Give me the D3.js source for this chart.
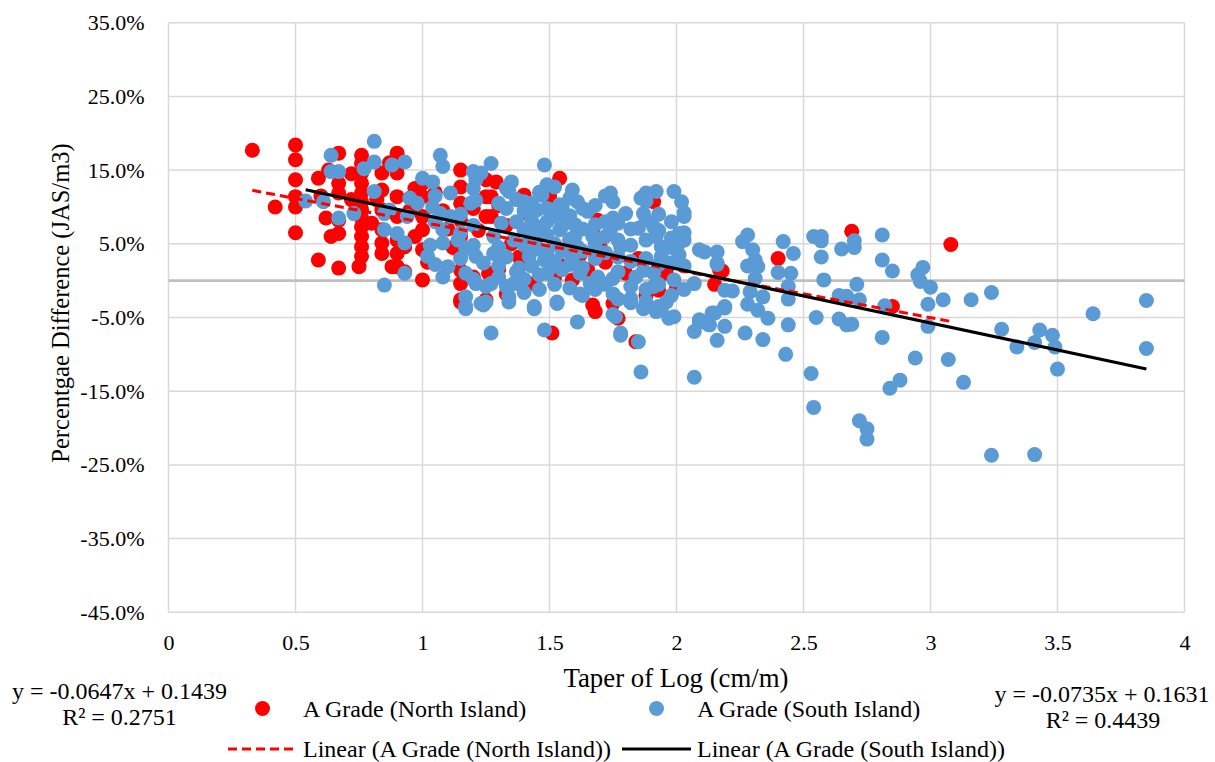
<!DOCTYPE html>
<html>
<head>
<meta charset="utf-8">
<script src="https://cdn.jsdelivr.net/npm/d3@7"></script>
<style>
  body { margin: 0; background: #fff; }
  svg, svg text { font-family: "Liberation Serif", "Times New Roman", serif; }
</style>
</head>
<body>
<svg width="1215" height="762"></svg>
<script>
// taper (cm/m), percentage difference (%)
const northIsland = [
  [0.33,17.7],[0.42,10.0],[0.50,18.4],[0.50,16.4],[0.50,13.7],[0.50,11.4],[0.50,10.0],[0.50,6.5],
  [0.59,13.9],[0.59,2.8],[0.60,11.5],[0.62,8.5],[0.63,15.0],[0.64,6.0],
  [0.67,17.3],[0.67,13.2],[0.67,11.9],[0.67,8.2],[0.67,6.4],[0.67,1.7],
  [0.72,14.5],[0.72,11.0],
  [0.76,17.0],[0.76,15.9],[0.76,14.6],[0.76,13.2],[0.76,11.9],[0.76,10.7],[0.76,9.6],[0.76,8.5],
  [0.76,7.3],[0.76,6.0],[0.76,4.6],[0.76,3.3],[0.75,1.9],
  [0.80,7.8],[0.82,11.0],
  [0.84,14.6],[0.84,12.3],[0.84,9.6],[0.84,6.9],[0.84,5.1],[0.84,3.7],
  [0.87,16.0],[0.88,1.9],
  [0.90,17.3],[0.90,14.6],[0.90,11.4],[0.90,8.7],[0.90,5.5],[0.90,3.7],[0.90,1.9],
  [0.93,4.6],[0.93,1.2],[0.95,9.5],[0.97,12.5],[0.97,6.0],
  [1.00,13.2],[1.00,11.4],[1.00,8.7],[1.00,6.9],[1.00,4.2],[1.00,0.1],[1.02,2.5],
  [1.05,12.0],[1.08,9.5],[1.10,7.0],[1.12,4.5],
  [1.15,15.0],[1.15,12.7],[1.15,10.5],[1.15,8.2],[1.15,6.0],[1.15,3.7],[1.15,1.4],[1.15,-0.4],[1.15,-2.6],[1.15,-2.9],
  [1.20,9.8],[1.20,0.5],[1.22,6.8],
  [1.25,13.7],[1.25,11.4],[1.25,8.7],[1.25,-2.6],[1.26,1.0],
  [1.27,11.4],[1.27,8.7],[1.29,13.4],
  [1.30,10.2],[1.30,1.5],[1.33,7.5],[1.33,-1.8],[1.35,5.0],[1.38,3.2],[1.40,11.6],[1.40,2.4],
  [1.42,9.0],[1.44,-0.4],[1.45,6.0],[1.48,4.0],
  [1.50,11.4],[1.51,-7.1],[1.52,0.5],[1.54,13.9],[1.55,8.5],[1.55,2.0],[1.58,5.5],[1.59,0.1],
  [1.62,3.5],[1.65,1.5],[1.67,6.9],[1.67,-3.3],[1.68,-4.2],[1.69,8.2],
  [1.70,4.5],[1.72,2.5],[1.75,-3.1],[1.77,-5.1],[1.80,1.0],[1.84,-8.3],[1.85,3.0],[1.88,-2.0],
  [1.91,10.7],[1.93,-1.3],[1.95,1.5],[1.96,1.0],[2.00,-1.0],
  [2.15,-0.5],[2.17,1.4],[2.18,1.3],[2.40,3.0],[2.69,6.7],[2.85,-3.5],[3.08,4.9]
];

const southIsland = [
  // left cluster
  [0.81,18.9],[0.64,17.0],[0.64,14.8],[0.67,14.8],[0.77,15.2],[0.81,16.1],[0.81,12.1],[0.88,15.7],
  [0.93,16.1],[1.07,17.0],[1.08,15.5],[1.20,14.8],[1.21,13.7],[1.00,13.9],[1.04,13.4],[1.11,11.9],
  [0.95,11.2],[0.54,10.8],[0.61,10.7],[0.67,8.5],[0.73,9.1],[0.85,9.1],[0.87,9.6],[0.85,6.9],
  [0.90,6.4],[0.93,5.1],[0.94,8.7],[0.98,10.5],[1.04,10.0],[1.07,9.1],[1.11,8.7],[1.19,10.5],
  [1.21,10.9],[1.08,6.9],[1.14,5.5],[1.17,4.4],[1.21,3.3],[1.08,5.1],[1.03,4.8],[1.02,3.3],
  [1.10,1.9],[1.08,0.5],[1.17,1.0],[1.21,-0.4],[0.93,1.0],[0.85,-0.6],[1.17,-2.2],[1.17,-3.5],
  [1.23,-3.1],[1.25,-0.8],
  [1.05,11.5],[1.05,8.0],[1.05,2.2],
  [1.15,9.0],[1.15,6.5],[1.15,3.0],[1.20,12.5],[1.20,7.5],[1.20,4.8],[1.20,0.2],
  // middle cluster
  [1.27,15.9],[1.48,15.7],[1.23,14.6],[1.35,13.4],[1.34,12.1],[1.40,10.7],[1.49,13.0],[1.47,11.6],
  [1.54,10.3],[1.59,12.3],[1.61,10.7],[1.65,9.4],[1.74,11.9],[1.75,10.7],[1.86,11.2],[1.92,12.1],
  [1.88,11.9],[1.99,12.1],[2.02,10.7],[2.03,8.7],[1.87,9.1],[1.85,7.1],[1.91,7.3],[1.92,6.0],
  [1.94,4.6],[1.94,3.3],[2.01,6.4],[2.01,5.1],[2.01,3.5],[1.75,8.5],[1.74,6.9],[1.77,5.5],
  [1.78,4.6],[1.60,7.6],[1.60,6.0],[1.61,4.6],[1.59,3.0],[1.54,8.5],[1.54,6.9],[1.49,8.0],
  [1.45,9.6],[1.44,6.6],[1.42,3.3],[1.48,2.8],[1.51,1.9],[1.38,1.7],[1.36,-0.4],[1.34,-2.2],
  [1.44,-3.5],[1.53,-2.9],[1.48,-6.7],[1.61,-5.6],[1.27,-7.1],[1.27,-0.4],[1.25,-2.9],[1.28,6.0],
  [1.28,3.7],[1.24,2.4],[1.62,1.0],[1.66,-0.4],[1.62,-1.8],[1.69,0.5],[1.75,0.3],[1.75,-1.8],
  [1.82,-2.4],[1.87,-3.8],[1.92,-4.2],[1.97,-5.1],[1.96,-2.9],[1.91,-0.8],[1.84,0.5],[1.87,1.4],
  [1.91,1.0],[1.99,0.1],[2.07,-0.4],[2.09,4.2],[2.16,3.9],[2.16,2.4],[2.19,-1.3],[2.19,-3.5],
  [2.15,-4.4],[2.12,-5.8],[2.07,-6.9],[2.16,-8.1],[1.75,-4.6],[1.78,-7.1],[1.85,-8.3],[1.80,9.1],
  [1.67,6.0],[1.36,5.5],[1.31,7.8],[1.40,6.9],
  [1.76,-4.9],[1.78,-7.4],[1.86,-12.4],[2.07,-13.1],[2.09,-5.6],[2.13,-6.0],[2.19,-6.2],[1.17,-3.8],
  [1.24,-3.3],[1.34,-2.9],[1.44,-3.8],[1.53,-3.1],[1.94,-4.0],[1.99,-4.9],
  [1.30,10.5],[1.30,4.5],[1.30,2.0],[1.30,0.5],
  [1.33,12.5],[1.33,9.8],[1.33,3.2],[1.33,-0.8],
  [1.37,11.0],[1.37,8.0],[1.37,1.2],
  [1.40,9.5],[1.40,4.8],[1.40,0.2],[1.40,-1.6],
  [1.43,10.5],[1.43,8.2],[1.43,5.2],[1.43,2.0],
  [1.46,12.0],[1.46,7.2],[1.46,4.3],[1.46,0.8],[1.46,-1.2],
  [1.49,9.8],[1.49,6.2],[1.49,3.8],[1.49,1.0],
  [1.52,12.7],[1.52,8.8],[1.52,5.0],[1.52,2.6],[1.52,-0.5],
  [1.55,10.0],[1.55,7.4],[1.55,4.0],[1.55,1.5],
  [1.58,11.2],[1.58,8.8],[1.58,5.6],[1.58,2.2],[1.58,-1.0],
  [1.63,9.8],[1.63,7.0],[1.63,4.0],[1.63,1.8],[1.63,-2.0],
  [1.68,10.2],[1.68,7.6],[1.68,5.0],[1.68,3.0],[1.68,-1.2],
  [1.72,11.5],[1.72,8.0],[1.72,6.0],[1.72,3.8],[1.72,-0.5],
  [1.77,7.8],[1.77,3.2],[1.77,1.2],[1.77,-2.5],
  [1.82,7.0],[1.82,4.8],[1.82,2.6],[1.82,-0.8],[1.82,-3.0],
  [1.88,10.8],[1.88,8.2],[1.88,5.5],[1.88,3.0],[1.88,-1.2],[1.88,-2.8],
  [1.93,9.0],[1.93,6.8],[1.93,2.2],[1.93,-0.5],[1.93,-3.5],
  [1.98,8.0],[1.98,5.8],[1.98,4.5],[1.98,2.4],[1.98,-2.0],
  [2.03,9.2],[2.03,6.5],[2.03,5.5],[2.03,2.0],[2.03,-1.2],
  // right side
  [2.28,6.2],[2.26,5.3],[2.30,4.2],[2.31,2.8],[2.28,2.0],[2.32,1.9],[2.31,0.3],[2.29,-1.5],
  [2.34,-2.2],[2.28,-3.2],[2.32,-4.0],[2.36,-5.1],[2.27,-7.1],[2.34,-8.0],[2.43,-10.0],[2.44,-6.0],
  [2.44,-2.5],[2.44,-0.8],[2.45,1.0],[2.40,1.1],[2.42,5.3],[2.46,3.7],[2.11,3.9],[2.16,2.2],
  [2.22,-1.4],[2.14,-4.4],[2.19,-3.7],[2.09,-5.3],
  [2.54,6.0],[2.57,6.0],[2.57,5.4],[2.57,3.2],[2.70,5.4],[2.70,4.5],[2.65,4.3],[2.58,0.1],
  [2.71,-0.5],[2.64,-2.0],[2.67,-2.1],[2.72,-2.6],[2.55,-5.0],[2.64,-5.2],[2.67,-6.0],[2.69,-5.9],
  [2.53,-12.6],[2.54,-17.2],[2.81,6.2],[2.81,2.8],[2.85,1.3],[2.82,-3.4],[2.81,-7.7],[2.94,-10.5],
  [2.88,-13.5],[2.84,-14.6],[2.97,1.8],[2.95,0.8],[2.96,-0.1],[3.00,-0.9],[2.99,-3.2],[2.99,-6.2],
  [2.72,-19.0],[2.75,-20.1],[2.75,-21.5],
  [3.05,-2.6],[3.16,-2.6],[3.24,-1.6],[3.64,-4.5],[3.85,-2.7],[3.28,-6.6],[3.34,-9.0],[3.43,-6.7],
  [3.41,-8.4],[3.48,-7.4],[3.49,-9.0],[3.50,-12.0],[3.85,-9.2],[3.07,-10.7],[3.13,-13.8],
  [3.24,-23.7],[3.41,-23.6]
];

// trendline coefficients [slope, intercept]
const northFit = [-0.0647, 0.1439];
const southFit = [-0.0735, 0.1631];
const northR2 = "0.2751";
const southR2 = "0.4439";

const xTicks = [0, 0.5, 1, 1.5, 2, 2.5, 3, 3.5, 4];
const yTicks = [35, 25, 15, 5, -5, -15, -25, -35, -45];

const seriesNames = ["A Grade (North Island)", "A Grade (South Island)"];
const red = "#ff0000", blue = "#5b9bd5";
const serif = "Liberation Serif, Times New Roman, serif";

const svg = d3.select("svg");
const margin = { top: 22.7, right: 30.5, bottom: 149.7, left: 168.5 };
const width = +svg.attr("width") - margin.left - margin.right;
const height = +svg.attr("height") - margin.top - margin.bottom;

const x = d3.scaleLinear().domain([0, 4]).range([0, width]);
const y = d3.scaleLinear().domain([-45, 35]).range([height, 0]);

const g = svg.append("g").attr("transform", `translate(${margin.left},${margin.top})`);

// gridlines
g.selectAll("line.vgrid").data(xTicks).enter().append("line")
  .attr("x1", d => x(d)).attr("x2", d => x(d))
  .attr("y1", 0).attr("y2", height)
  .attr("stroke", "#d9d9d9").attr("stroke-width", 1.5);
g.selectAll("line.hgrid").data(yTicks).enter().append("line")
  .attr("x1", 0).attr("x2", width)
  .attr("y1", d => y(d)).attr("y2", d => y(d))
  .attr("stroke", "#d9d9d9").attr("stroke-width", 1.5);

// horizontal axis line at zero
g.append("line")
  .attr("x1", 0).attr("x2", width)
  .attr("y1", y(0)).attr("y2", y(0))
  .attr("stroke", "#bfbfbf").attr("stroke-width", 2.6);

// axes labels
const yAxis = g.append("g")
  .call(d3.axisLeft(y).tickValues(yTicks).tickSize(0).tickPadding(24)
    .tickFormat(d => d.toFixed(1) + "%"));
const xAxis = g.append("g").attr("transform", `translate(0,${height})`)
  .call(d3.axisBottom(x).tickValues(xTicks).tickSize(0).tickPadding(22)
    .tickFormat(d => String(d)));
[xAxis, yAxis].forEach(a => {
  a.attr("font-family", serif).attr("font-size", 22);
  a.select(".domain").remove();
  a.selectAll("text").style("font-family", serif).attr("fill", "#000");
});

// points
g.append("g").selectAll("circle").data(northIsland).enter().append("circle")
  .attr("cx", d => x(d[0])).attr("cy", d => y(d[1])).attr("r", 7.5).attr("fill", red);
g.append("g").selectAll("circle").data(southIsland).enter().append("circle")
  .attr("cx", d => x(d[0])).attr("cy", d => y(d[1])).attr("r", 7.5).attr("fill", blue);

// trendlines over the data range
function trend(data, fit) {
  const ext = d3.extent(data, d => d[0]);
  return ext.map(t => [t, 100 * (fit[0] * t + fit[1])]);
}
const line = d3.line().x(d => x(d[0])).y(d => y(d[1]));
g.append("path").attr("d", line(trend(northIsland, northFit)))
  .attr("fill", "none").attr("stroke", red).attr("stroke-width", 3)
  .attr("stroke-dasharray", "9,5");
g.append("path").attr("d", line(trend(southIsland, southFit)))
  .attr("fill", "none").attr("stroke", "#000").attr("stroke-width", 3.2);

// axis titles
svg.append("text")
  .attr("x", 676).attr("y", 687)
  .attr("text-anchor", "middle").attr("font-size", 26.8)
  .text("Taper of Log (cm/m)");
svg.append("text")
  .attr("transform", "translate(69,303) rotate(-90)")
  .attr("text-anchor", "middle").attr("font-size", 24.5)
  .text("Percentgae Difference (JAS/m3)");

// trendline equations
function eq(fit) {
  return `y = ${fit[0].toFixed(4)}x + ${fit[1].toFixed(4)}`;
}
const eqs = svg.append("g").attr("font-size", 24).attr("text-anchor", "middle");
eqs.append("text").attr("x", 119.5).attr("y", 699).text(eq(northFit));
eqs.append("text").attr("x", 119.5).attr("y", 725).text("R² = " + northR2);
eqs.append("text").attr("x", 1102).attr("y", 702).text(eq(southFit));
eqs.append("text").attr("x", 1103).attr("y", 728).text("R² = " + southR2);

// legend
const leg = svg.append("g").attr("font-size", 24);
const cols = [228, 622];
seriesNames.forEach((name, i) => {
  const c = cols[i];
  leg.append("circle").attr("cx", c + 34.5).attr("cy", 708.5).attr("r", 7.5)
    .attr("fill", i === 0 ? red : blue);
  leg.append("text").attr("x", c + 75).attr("y", 717).text(name);
  leg.append("line").attr("x1", c).attr("x2", c + 69).attr("y1", 749).attr("y2", 749)
    .attr("stroke", i === 0 ? red : "#000").attr("stroke-width", 3.2)
    .attr("stroke-dasharray", i === 0 ? "9,5" : null);
  leg.append("text").attr("x", c + 75).attr("y", 756.5).text(`Linear (${name})`);
});
</script>
</body>
</html>
